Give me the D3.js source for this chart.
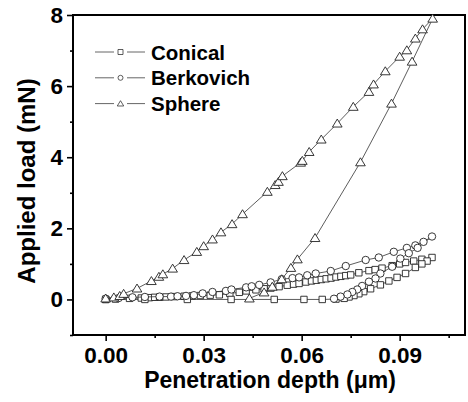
<!DOCTYPE html>
<html>
<head>
<meta charset="utf-8">
<script src="https://cdn.jsdelivr.net/npm/d3@7"></script>
<style>
  body { margin: 0; background: #fff; }
  text { font-family: "Liberation Sans", Arial, sans-serif; font-weight: bold; fill: #000; }
</style>
</head>
<body>
<div id="chart"></div>
<script>
// series names and tick values
const seriesNames = ["Conical", "Berkovich", "Sphere"]
const xTicks = [0.00, 0.03, 0.06, 0.09]
const xMinorTicks = [0.015, 0.045, 0.075, 0.105]
const yTicks = [0, 2, 4, 6, 8]
const yMinorTicks = [-1, 1, 3, 5, 7]

// Conical: loading then unloading (depth in um, load in mN)
const conicalDepth = [0, 0.003, 0.0073, 0.0109, 0.0134, 0.015, 0.0165, 0.0185, 0.021, 0.024, 0.0265, 0.029, 0.032, 0.0348, 0.038, 0.0409, 0.043, 0.046, 0.0485, 0.0506, 0.0531, 0.0556, 0.0575, 0.0592, 0.0613, 0.063, 0.0645, 0.066, 0.0675, 0.069, 0.0705, 0.072, 0.0735, 0.075, 0.0775, 0.0806, 0.0825, 0.0846, 0.0877, 0.09, 0.0918, 0.0943, 0.0968, 0.0999,
    0.0984, 0.0968, 0.0948, 0.0918, 0.0892, 0.0867, 0.0841, 0.0811, 0.079, 0.0775, 0.076, 0.0745, 0.073, 0.0705, 0.0663, 0.0607, 0.0516, 0.0384, 0.025, 0.012, 0.0]
const conicalLoad = [0, 0.01, 0.03, 0.04, 0.05, 0.06, 0.06, 0.07, 0.08, 0.09, 0.1, 0.11, 0.12, 0.13, 0.17, 0.2, 0.24, 0.27, 0.3, 0.32, 0.36, 0.4, 0.43, 0.45, 0.49, 0.52, 0.54, 0.56, 0.58, 0.6, 0.63, 0.65, 0.67, 0.69, 0.75, 0.81, 0.84, 0.88, 0.95, 1.0, 1.04, 1.08, 1.13, 1.18,
    1.08, 1.0, 0.9, 0.73, 0.62, 0.52, 0.41, 0.30, 0.22, 0.16, 0.11, 0.07, 0.03, 0.01, 0, 0, 0, 0, 0, 0, 0]

// Berkovich
const berkDepth = [0, 0.004, 0.0082, 0.012, 0.0165, 0.02, 0.022, 0.0246, 0.027, 0.0297, 0.0327, 0.0368, 0.0385, 0.043, 0.0447, 0.047, 0.0505, 0.0539, 0.0572, 0.0592, 0.0617, 0.0643, 0.0689, 0.0735, 0.0796, 0.0836, 0.0882, 0.0922, 0.0948, 0.0973, 0.0999,
    0.0955, 0.0928, 0.0902, 0.0877, 0.0841, 0.0826, 0.0806, 0.0785, 0.077, 0.0755, 0.074, 0.0719, 0.0699]
const berkLoad = [0.02, 0.04, 0.06, 0.07, 0.08, 0.08, 0.09, 0.1, 0.12, 0.17, 0.21, 0.24, 0.28, 0.34, 0.37, 0.41, 0.48, 0.57, 0.6, 0.62, 0.68, 0.73, 0.8, 0.94, 1.11, 1.18, 1.34, 1.45, 1.52, 1.62, 1.77,
    1.45, 1.30, 1.15, 0.92, 0.73, 0.59, 0.5, 0.38, 0.28, 0.21, 0.14, 0.08, 0.02]

// Sphere
const sphereDepth = [0, 0.0025, 0.0043, 0.0055, 0.0096, 0.014, 0.0163, 0.0175, 0.0205, 0.024, 0.0279, 0.030, 0.0327, 0.0353, 0.0387, 0.0419, 0.0495, 0.0519, 0.0529, 0.0541, 0.0597, 0.0602, 0.0623, 0.066, 0.0709, 0.0758, 0.0806, 0.082, 0.0856, 0.090, 0.0922, 0.0948, 0.097, 0.1001,
    0.0938, 0.0875, 0.0780, 0.0641, 0.0587, 0.0567, 0.0539, 0.051, 0.0485, 0.044]
const sphereLoad = [0.03, 0.06, 0.1, 0.16, 0.31, 0.52, 0.64, 0.71, 0.87, 1.11, 1.34, 1.50, 1.69, 1.89, 2.12, 2.40, 3.03, 3.22, 3.31, 3.47, 3.85, 3.90, 4.15, 4.50, 4.95, 5.42, 5.84, 6.05, 6.42, 6.83, 7.01, 7.34, 7.6, 7.9,
    6.69, 5.51, 3.86, 1.73, 1.13, 0.89, 0.57, 0.36, 0.2, 0.03]

const dimensions = {
    width: 468,
    height: 402,
    margin: { top: 15, right: 3, bottom: 67, left: 73 },
}
dimensions.boundedWidth = dimensions.width - dimensions.margin.left - dimensions.margin.right
dimensions.boundedHeight = dimensions.height - dimensions.margin.top - dimensions.margin.bottom

const xScale = d3.scaleLinear()
    .domain([-0.01, 0.11])
    .range([0, dimensions.boundedWidth])

const yScale = d3.scaleLinear()
    .domain([-1, 8])
    .range([dimensions.boundedHeight, 0])

const svg = d3.select("#chart")
    .append("svg")
    .attr("width", dimensions.width)
    .attr("height", dimensions.height)

const bounds = svg.append("g")
    .attr("transform", `translate(${dimensions.margin.left},${dimensions.margin.top})`)

// frame
bounds.append("rect")
    .attr("width", dimensions.boundedWidth)
    .attr("height", dimensions.boundedHeight)
    .attr("fill", "none")
    .attr("stroke", "#000")
    .attr("stroke-width", 2)

// axes
const xAxis = bounds.append("g")
    .attr("transform", `translate(0,${dimensions.boundedHeight})`)
    .call(d3.axisBottom(xScale).tickValues(xTicks).tickFormat(d3.format(".2f")).tickSize(6).tickPadding(6))
const xMinor = bounds.append("g")
    .attr("transform", `translate(0,${dimensions.boundedHeight})`)
    .call(d3.axisBottom(xScale).tickValues(xMinorTicks).tickFormat("").tickSize(3))
const yAxis = bounds.append("g")
    .call(d3.axisLeft(yScale).tickValues(yTicks).tickSize(6).tickPadding(4))
const yMinor = bounds.append("g")
    .call(d3.axisLeft(yScale).tickValues(yMinorTicks).tickFormat("").tickSize(3))

;[xAxis, xMinor, yAxis, yMinor].forEach(ax => {
    ax.select(".domain").remove()
    ax.selectAll(".tick line").attr("stroke", "#000").attr("stroke-width", 1.6)
    ax.selectAll("text")
        .attr("font-family", "Liberation Sans, Arial, sans-serif")
        .attr("font-weight", "bold")
        .attr("font-size", 22.5)
        .attr("fill", "#000")
})

// axis titles
svg.append("text")
    .attr("x", dimensions.margin.left + xScale(0.05) + 1)
    .attr("y", 388)
    .attr("text-anchor", "middle")
    .attr("font-size", 23)
    .text("Penetration depth (\u03bcm)")

svg.append("text")
    .attr("transform", "translate(35,181) rotate(-90)")
    .attr("text-anchor", "middle")
    .attr("font-size", 24)
    .text("Applied load (mN)")

// markers
const markerPath = (type, s) => {
    if (type === "square") return `M${-s},${-s}H${s}V${s}H${-s}Z`
    if (type === "circle") return `M${s},0A${s},${s} 0 1,1 ${-s},0A${s},${s} 0 1,1 ${s},0Z`
    const h = s * 1.9
    return `M0,${-h * 0.55}L${s * 1.15},${h * 0.45}L${-s * 1.15},${h * 0.45}Z`
}

const series = [
    { name: seriesNames[0], depth: conicalDepth, load: conicalLoad, type: "square", size: 3.2 },
    { name: seriesNames[1], depth: berkDepth, load: berkLoad, type: "circle", size: 3.7 },
    { name: seriesNames[2], depth: sphereDepth, load: sphereLoad, type: "triangle", size: 4.2 },
]

const line = d3.line()
    .x(d => xScale(d[0]))
    .y(d => yScale(d[1]))

series.forEach(s => {
    const pts = s.depth.map((d, i) => [d, s.load[i]])
    const g = bounds.append("g")
    g.append("path")
        .datum(pts)
        .attr("d", line)
        .attr("fill", "none")
        .attr("stroke", "#333")
        .attr("stroke-width", 0.8)
    g.selectAll("path.mk")
        .data(pts)
        .join("path")
        .attr("class", "mk")
        .attr("transform", d => `translate(${xScale(d[0])},${yScale(d[1])})`)
        .attr("d", markerPath(s.type, s.size))
        .attr("fill", "#fff")
        .attr("stroke", "#222")
        .attr("stroke-width", 0.9)
})

// legend
const legend = svg.append("g")
series.forEach((s, i) => {
    const y = 52 + i * 25.8
    legend.append("line")
        .attr("x1", 95).attr("x2", 114).attr("y1", y).attr("y2", y)
        .attr("stroke", "#555").attr("stroke-width", 0.9)
    legend.append("line")
        .attr("x1", 127).attr("x2", 145).attr("y1", y).attr("y2", y)
        .attr("stroke", "#555").attr("stroke-width", 0.9)
    legend.append("path")
        .attr("transform", `translate(120.5,${y})`)
        .attr("d", markerPath(s.type, s.type === "triangle" ? 2.8 : 2.5))
        .attr("fill", "#fff")
        .attr("stroke", "#333")
        .attr("stroke-width", 0.8)
    legend.append("text")
        .attr("x", 151)
        .attr("y", y + 7.5)
        .attr("font-size", 20.5)
        .text(s.name)
})
</script>
</body>
</html>
